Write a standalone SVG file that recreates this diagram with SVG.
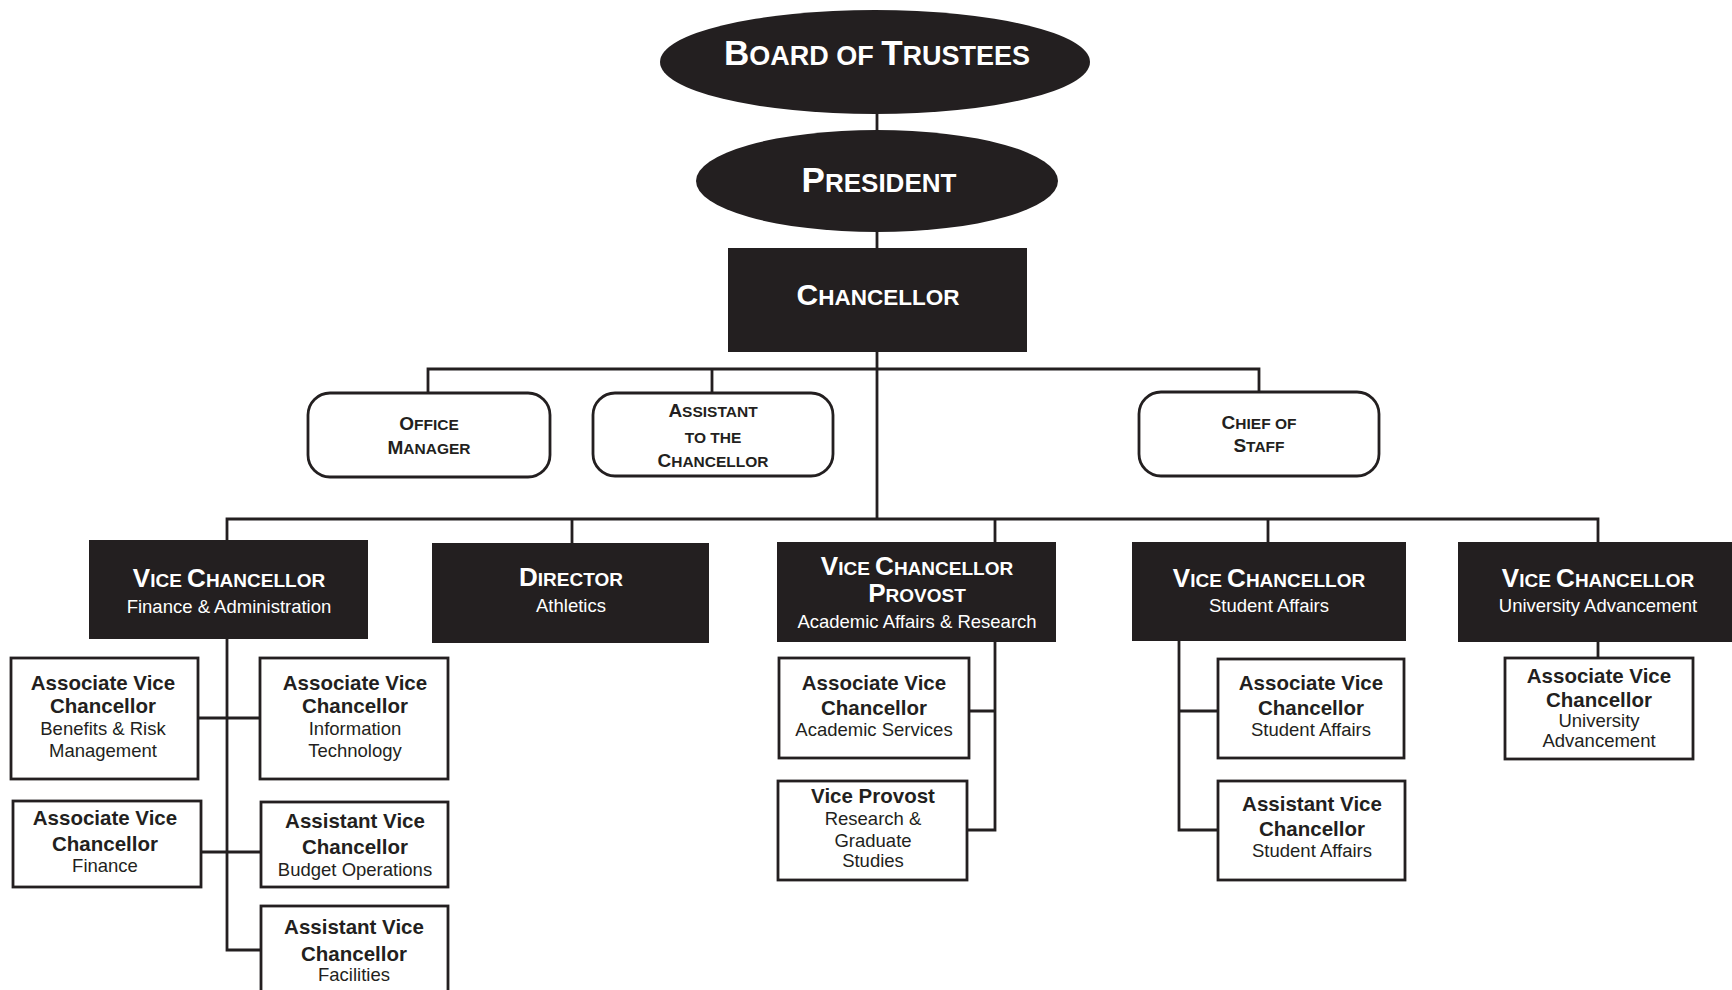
<svg xmlns="http://www.w3.org/2000/svg" width="1732" height="990" viewBox="0 0 1732 990">
<style>
.ln{fill:none;stroke:#231f20;stroke-width:2.8}
.dk{fill:#231f20}
.wb{fill:#fff;stroke:#231f20;stroke-width:2.8}
text{font-family:"Liberation Sans",Arial,Helvetica,sans-serif;text-anchor:middle}
.tw{fill:#fff}
.tk{fill:#231f20}
.b{font-weight:bold}
.h{font-weight:bold;font-size:19px}
.h .c{font-size:26px}
.s{font-size:18.5px}
.r{font-weight:bold;font-size:15.5px}
.r .c{font-size:19px}
.cb{font-weight:bold;font-size:20.5px}
</style>
<g id="connectors">
<path class="ln" d="M877 113V130M877 232V248M877 352V519"/>
<path class="ln" d="M428 393V369H1259V392M712 369V393"/>
<path class="ln" d="M227 540V519H1598V542M572 519V543M995 519V542M1268 519V542"/>
<path class="ln" d="M227 639V950H261M198 718H260M201 852H261"/>
<path class="ln" d="M995 642V830H967M969 711H995"/>
<path class="ln" d="M1179 641V830H1218M1179 711H1218"/>
<path class="ln" d="M1598 642V658"/>
</g>
<g id="board">
<ellipse class="dk" cx="875" cy="62" rx="215" ry="52"/>
<text class="tw b" x="877" y="65" style="font-size:27px"><tspan style="font-size:35px">B</tspan>OARD OF <tspan style="font-size:35px">T</tspan>RUSTEES</text>
</g>
<g id="president">
<ellipse class="dk" cx="877" cy="181" rx="181" ry="51"/>
<text class="tw b" x="879" y="192" style="font-size:26px"><tspan style="font-size:35px">P</tspan>RESIDENT</text>
</g>
<g id="chancellor">
<rect class="dk" x="728" y="248" width="299" height="104"/>
<text class="tw b" x="878" y="305" style="font-size:22.5px"><tspan style="font-size:30px">C</tspan>HANCELLOR</text>
</g>
<g id="office-manager">
<rect class="wb" x="308" y="393" width="242" height="84" rx="22"/>
<text class="tk r" x="429" y="430"><tspan class="c">O</tspan>FFICE</text>
<text class="tk r" x="429" y="454"><tspan class="c">M</tspan>ANAGER</text>
</g>
<g id="assistant-chancellor">
<rect class="wb" x="593" y="393" width="240" height="83" rx="22"/>
<text class="tk r" x="713" y="417"><tspan class="c">A</tspan>SSISTANT</text>
<text class="tk r" x="713" y="443">TO THE</text>
<text class="tk r" x="713" y="467"><tspan class="c">C</tspan>HANCELLOR</text>
</g>
<g id="chief-of-staff">
<rect class="wb" x="1139" y="392" width="240" height="84" rx="22"/>
<text class="tk r" x="1259" y="429"><tspan class="c">C</tspan>HIEF OF</text>
<text class="tk r" x="1259" y="452"><tspan class="c">S</tspan>TAFF</text>
</g>
<g id="vc-finance">
<rect class="dk" x="89" y="540" width="279" height="99"/>
<text class="tw h" x="229" y="587"><tspan class="c">V</tspan>ICE <tspan class="c">C</tspan>HANCELLOR</text>
<text class="tw s" x="229" y="613">Finance &amp; Administration</text>
</g>
<g id="director-athletics">
<rect class="dk" x="432" y="543" width="277" height="100"/>
<text class="tw h" x="571" y="586"><tspan class="c">D</tspan>IRECTOR</text>
<text class="tw s" x="571" y="612">Athletics</text>
</g>
<g id="vc-provost">
<rect class="dk" x="777" y="542" width="279" height="100"/>
<text class="tw h" x="917" y="575"><tspan class="c">V</tspan>ICE <tspan class="c">C</tspan>HANCELLOR</text>
<text class="tw h" x="917" y="602"><tspan class="c">P</tspan>ROVOST</text>
<text class="tw s" x="917" y="628">Academic Affairs &amp; Research</text>
</g>
<g id="vc-student">
<rect class="dk" x="1132" y="542" width="274" height="99"/>
<text class="tw h" x="1269" y="587"><tspan class="c">V</tspan>ICE <tspan class="c">C</tspan>HANCELLOR</text>
<text class="tw s" x="1269" y="612">Student Affairs</text>
</g>
<g id="vc-advancement">
<rect class="dk" x="1458" y="542" width="280" height="100"/>
<text class="tw h" x="1598" y="587"><tspan class="c">V</tspan>ICE <tspan class="c">C</tspan>HANCELLOR</text>
<text class="tw s" x="1598" y="612">University Advancement</text>
</g>
<g id="avc-benefits">
<rect class="wb" x="11" y="658" width="187" height="121"/>
<text class="tk cb" x="103" y="690">Associate Vice</text>
<text class="tk cb" x="103" y="713">Chancellor</text>
<text class="tk s" x="103" y="735">Benefits &amp; Risk</text>
<text class="tk s" x="103" y="757">Management</text>
</g>
<g id="avc-it">
<rect class="wb" x="260" y="658" width="188" height="121"/>
<text class="tk cb" x="355" y="690">Associate Vice</text>
<text class="tk cb" x="355" y="713">Chancellor</text>
<text class="tk s" x="355" y="735">Information</text>
<text class="tk s" x="355" y="757">Technology</text>
</g>
<g id="avc-finance">
<rect class="wb" x="13" y="801" width="188" height="86"/>
<text class="tk cb" x="105" y="825">Associate Vice</text>
<text class="tk cb" x="105" y="851">Chancellor</text>
<text class="tk s" x="105" y="872">Finance</text>
</g>
<g id="asvc-budget">
<rect class="wb" x="261" y="802" width="187" height="85"/>
<text class="tk cb" x="355" y="828">Assistant Vice</text>
<text class="tk cb" x="355" y="854">Chancellor</text>
<text class="tk s" x="355" y="876">Budget Operations</text>
</g>
<g id="asvc-facilities">
<rect class="wb" x="261" y="906" width="187" height="100"/>
<text class="tk cb" x="354" y="934">Assistant Vice</text>
<text class="tk cb" x="354" y="961">Chancellor</text>
<text class="tk s" x="354" y="981">Facilities</text>
</g>
<g id="avc-academic">
<rect class="wb" x="779" y="658" width="190" height="100"/>
<text class="tk cb" x="874" y="690">Associate Vice</text>
<text class="tk cb" x="874" y="715">Chancellor</text>
<text class="tk s" x="874" y="736">Academic Services</text>
</g>
<g id="vice-provost">
<rect class="wb" x="778" y="781" width="189" height="99"/>
<text class="tk cb" x="873" y="803">Vice Provost</text>
<text class="tk s" x="873" y="825">Research &amp;</text>
<text class="tk s" x="873" y="847">Graduate</text>
<text class="tk s" x="873" y="867">Studies</text>
</g>
<g id="avc-student">
<rect class="wb" x="1218" y="659" width="186" height="99"/>
<text class="tk cb" x="1311" y="690">Associate Vice</text>
<text class="tk cb" x="1311" y="715">Chancellor</text>
<text class="tk s" x="1311" y="736">Student Affairs</text>
</g>
<g id="asvc-student">
<rect class="wb" x="1218" y="781" width="187" height="99"/>
<text class="tk cb" x="1312" y="811">Assistant Vice</text>
<text class="tk cb" x="1312" y="836">Chancellor</text>
<text class="tk s" x="1312" y="857">Student Affairs</text>
</g>
<g id="avc-advancement">
<rect class="wb" x="1505" y="658" width="188" height="101"/>
<text class="tk cb" x="1599" y="683">Associate Vice</text>
<text class="tk cb" x="1599" y="707">Chancellor</text>
<text class="tk s" x="1599" y="727">University</text>
<text class="tk s" x="1599" y="747">Advancement</text>
</g>
</svg>
